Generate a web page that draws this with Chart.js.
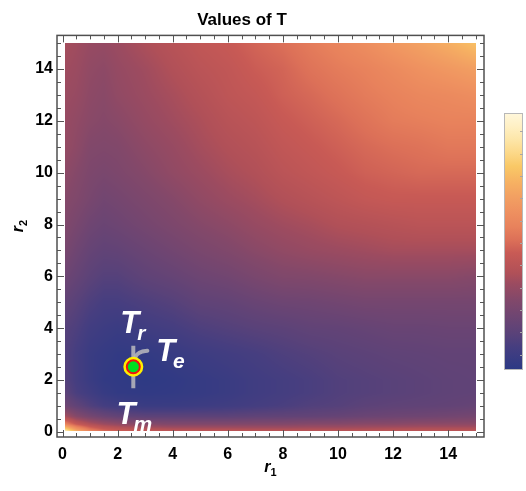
<!DOCTYPE html>
<html><head><meta charset="utf-8">
<script src="https://cdn.jsdelivr.net/npm/chart.js@4.4.1/dist/chart.umd.min.js"></script>
<style>html,body{margin:0;padding:0;background:#fff;}#wrap{width:526px;height:491px;position:relative}</style>
</head><body><div id="wrap"><canvas id="c" width="526" height="491"></canvas></div>
<script>
// ---- data ----
const r1Values = [0.1, 0.5, 1, 1.5, 2, 3, 4, 5, 6, 7, 8, 9, 10, 11, 12, 13, 14, 15];
const r2Values = [15, 14, 13, 12, 11, 10, 9, 8, 7, 6, 5, 4, 3, 2, 1.5, 1, 0.6, 0.3, 0.05];
// normalised T, one row per r2 value (top row = r2 15), columns follow r1Values
const tRows = [
  [0.355,0.345,0.325,0.32,0.335,0.37,0.40,0.43,0.45,0.48,0.505,0.54,0.57,0.605,0.645,0.68,0.72,0.77],
  [0.345,0.335,0.31,0.30,0.32,0.345,0.38,0.41,0.43,0.46,0.48,0.515,0.54,0.56,0.59,0.62,0.645,0.67],
  [0.335,0.325,0.30,0.29,0.31,0.335,0.36,0.39,0.42,0.44,0.47,0.49,0.515,0.54,0.56,0.58,0.59,0.605],
  [0.325,0.31,0.29,0.28,0.29,0.32,0.345,0.37,0.40,0.42,0.45,0.47,0.49,0.515,0.54,0.55,0.56,0.56],
  [0.32,0.30,0.27,0.265,0.27,0.30,0.325,0.355,0.38,0.40,0.43,0.45,0.47,0.49,0.505,0.515,0.53,0.53],
  [0.30,0.28,0.255,0.245,0.255,0.28,0.31,0.335,0.36,0.38,0.41,0.43,0.45,0.47,0.48,0.49,0.49,0.49],
  [0.28,0.265,0.24,0.22,0.23,0.255,0.28,0.31,0.335,0.355,0.38,0.40,0.42,0.44,0.45,0.45,0.45,0.45],
  [0.265,0.24,0.21,0.195,0.205,0.23,0.255,0.28,0.30,0.325,0.345,0.36,0.38,0.39,0.40,0.41,0.41,0.41],
  [0.24,0.21,0.18,0.165,0.17,0.195,0.22,0.245,0.265,0.29,0.31,0.325,0.335,0.345,0.355,0.355,0.355,0.355],
  [0.205,0.18,0.15,0.13,0.13,0.16,0.18,0.205,0.22,0.245,0.265,0.27,0.28,0.29,0.29,0.29,0.29,0.28],
  [0.165,0.14,0.11,0.09,0.09,0.11,0.13,0.16,0.17,0.19,0.205,0.21,0.22,0.23,0.23,0.23,0.23,0.23],
  [0.13,0.11,0.075,0.06,0.05,0.07,0.085,0.11,0.125,0.14,0.15,0.165,0.17,0.18,0.19,0.19,0.195,0.195],
  [0.12,0.085,0.05,0.035,0.025,0.025,0.04,0.06,0.075,0.09,0.11,0.125,0.14,0.15,0.16,0.165,0.17,0.17],
  [0.125,0.085,0.05,0.025,0.02,0.01,0.02,0.035,0.05,0.07,0.085,0.10,0.12,0.13,0.14,0.15,0.16,0.165],
  [0.15,0.10,0.07,0.04,0.025,0.02,0.025,0.035,0.05,0.07,0.085,0.10,0.12,0.13,0.14,0.15,0.16,0.165],
  [0.21,0.165,0.12,0.085,0.07,0.05,0.05,0.06,0.07,0.085,0.10,0.12,0.13,0.15,0.16,0.165,0.17,0.18],
  [0.355,0.28,0.23,0.195,0.17,0.15,0.15,0.15,0.15,0.16,0.165,0.17,0.18,0.195,0.205,0.21,0.22,0.23],
  [0.56,0.45,0.38,0.335,0.31,0.28,0.265,0.265,0.265,0.27,0.27,0.28,0.28,0.29,0.29,0.30,0.30,0.30],
  [0.90,0.70,0.56,0.49,0.46,0.43,0.41,0.41,0.41,0.40,0.40,0.40,0.40,0.40,0.41,0.41,0.41,0.41]
];
const tickValues = [0, 2, 4, 6, 8, 10, 12, 14];
const paletteStops = [
  [0.00,'#2b3985'],[0.09,'#463e80'],[0.143,'#5a4279'],[0.208,'#6e4572'],[0.273,'#82486a'],
  [0.338,'#9c4b60'],[0.377,'#b05058'],[0.455,'#c85a55'],[0.506,'#dc7058'],[0.558,'#e8825c'],
  [0.623,'#ef9260'],[0.675,'#f2a062'],[0.727,'#f6b062'],[0.792,'#f9c866'],[0.844,'#fcd888'],
  [0.896,'#fde6a8'],[0.948,'#fff0c4'],[1.00,'#fff7dc']
];
const colorbarTicks = [0.06, 0.147, 0.234, 0.32, 0.407, 0.494, 0.58, 0.668, 0.755, 0.842, 0.929];
const markerPoint = [{x: 2.57, y: 2.51}];
const markerBar = [{x: 2.57, y: 1.68}, {x: 2.57, y: 3.32}];
const markerHook = [{x: 2.6, y: 2.8}, {x: 2.72, y: 3.0}, {x: 2.9, y: 3.1}, {x: 3.08, y: 3.13}];
const pointLabels = [
  {main: 'T', sub: 'r', x: 2.1, y: 3.81},
  {main: 'T', sub: 'e', x: 3.4, y: 2.73},
  {main: 'T', sub: 'm', x: 1.96, y: 0.31}
];
const FONT = '"Liberation Sans", Arial, sans-serif';

// ---- helpers ----
const pal = paletteStops.map(([p, h]) => [p, parseInt(h.slice(1,3),16), parseInt(h.slice(3,5),16), parseInt(h.slice(5,7),16)]);
function colorAt(v) {
  v = Math.max(0, Math.min(1, v));
  for (let i = 0; i < pal.length - 1; i++) {
    const a = pal[i], b = pal[i+1];
    if (v <= b[0]) {
      const t = (v - a[0]) / (b[0] - a[0]);
      return [a[1]+(b[1]-a[1])*t, a[2]+(b[2]-a[2])*t, a[3]+(b[3]-a[3])*t];
    }
  }
  const l = pal[pal.length-1]; return [l[1], l[2], l[3]];
}
const ysAsc = r2Values.slice().reverse();
const rowsAsc = tRows.slice().reverse();
function seg(arr, v) {
  if (v <= arr[0]) return [0, 0];
  for (let i = 0; i < arr.length - 1; i++) if (v <= arr[i+1]) return [i, (v - arr[i]) / (arr[i+1] - arr[i])];
  return [arr.length - 2, 1];
}
function sample(xv, yv) {
  const [i, tx] = seg(r1Values, xv), [j, ty] = seg(ysAsc, yv);
  const a = rowsAsc[j][i], b = rowsAsc[j][i+1], c = rowsAsc[j+1][i], d = rowsAsc[j+1][i+1];
  return (a*(1-tx) + b*tx)*(1-ty) + (c*(1-tx) + d*tx)*ty;
}

const heatPlugin = {
  id: 'heat',
  beforeDatasetsDraw(chart) {
    const {ctx, scales: {x, y}} = chart;
    const px0 = Math.round(x.getPixelForValue(r1Values[0]));
    const px1 = Math.round(x.getPixelForValue(r1Values[r1Values.length-1]));
    const py0 = Math.round(y.getPixelForValue(ysAsc[ysAsc.length-1]));
    const py1 = Math.round(y.getPixelForValue(ysAsc[0]));
    const w = px1 - px0, h = py1 - py0;
    const off = document.createElement('canvas'); off.width = w; off.height = h;
    const octx = off.getContext('2d'); const img = octx.createImageData(w, h);
    for (let j = 0; j < h; j++) {
      const yv = y.getValueForPixel(py0 + j + 0.5);
      for (let i = 0; i < w; i++) {
        const xv = x.getValueForPixel(px0 + i + 0.5);
        const c = colorAt(sample(xv, yv));
        const k = (j*w + i)*4;
        img.data[k] = c[0]; img.data[k+1] = c[1]; img.data[k+2] = c[2]; img.data[k+3] = 255;
      }
    }
    octx.putImageData(img, 0, 0);
    ctx.drawImage(off, px0, py0);
  }
};

const framePlugin = {
  id: 'frame',
  afterDatasetsDraw(chart) {
    const {ctx, chartArea: a, scales: {x, y}} = chart;
    // labels
    ctx.save();
    ctx.fillStyle = '#ffffff';
    ctx.textBaseline = 'alphabetic'; ctx.textAlign = 'left';
    pointLabels.forEach(l => {
      const px = x.getPixelForValue(l.x), py = y.getPixelForValue(l.y);
      ctx.font = 'italic bold 31px ' + FONT;
      ctx.fillText(l.main, px, py);
      const w = ctx.measureText(l.main).width;
      ctx.font = 'italic bold 21px ' + FONT;
      ctx.fillText(l.sub, px + w - 2, py + 7);
    });
    ctx.restore();
    // frame and ticks
    ctx.save();
    ctx.strokeStyle = '#555555'; ctx.lineWidth = 1;
    ctx.beginPath();
    for (let k = 0; k <= 30; k++) {
      const v = k * 0.5;
      const major = tickValues.includes(v);
      const L = major ? 7 : 4;
      const px = Math.round(x.getPixelForValue(v)) + 0.5;
      ctx.moveTo(px, a.bottom); ctx.lineTo(px, a.bottom - L);
      ctx.moveTo(px, a.top); ctx.lineTo(px, a.top + L);
      const py = Math.round(y.getPixelForValue(v)) + 0.5;
      ctx.moveTo(a.left, py); ctx.lineTo(a.left + L, py);
      ctx.moveTo(a.right, py); ctx.lineTo(a.right - L, py);
    }
    ctx.stroke();
    ctx.lineWidth = 1.5; ctx.strokeStyle = '#505050';
    ctx.strokeRect(a.left, a.top, a.right - a.left, a.bottom - a.top);
    ctx.restore();
  },
  afterDraw(chart) {
    const {ctx, chartArea: a} = chart;
    ctx.save();
    // axis titles
    ctx.fillStyle = '#000';
    ctx.textBaseline = 'alphabetic';
    const cx = (a.left + a.right) / 2;
    ctx.font = 'italic bold 16px ' + FONT;
    const rw = ctx.measureText('r').width;
    ctx.font = 'bold 11px ' + FONT;
    const sw = ctx.measureText('1').width;
    let sx = cx - (rw + sw) / 2;
    ctx.font = 'italic bold 16px ' + FONT; ctx.fillText('r', sx, 472);
    ctx.font = 'bold 11px ' + FONT; ctx.fillText('1', sx + rw, 476);
    ctx.translate(23, 226); ctx.rotate(-Math.PI/2);
    sx = -(rw + sw) / 2;
    ctx.font = 'italic bold 16px ' + FONT; ctx.fillText('r', sx, 0);
    ctx.font = 'bold 11px ' + FONT; ctx.fillText('2', sx + rw, 4);
    ctx.restore();
    // colour bar
    const bx = a.right + 20, bw = 19, byTop = 113, byBot = 370;
    ctx.save();
    const g = ctx.createLinearGradient(0, byBot, 0, byTop);
    paletteStops.forEach(([p, c]) => g.addColorStop(p, c));
    ctx.fillStyle = g; ctx.fillRect(bx, byTop, bw, byBot - byTop);
    ctx.strokeStyle = '#b8b8b8'; ctx.lineWidth = 1;
    ctx.strokeRect(bx + 0.5, byTop + 0.5, bw - 1, byBot - byTop - 1);
    ctx.strokeStyle = '#a8a8a8';
    ctx.beginPath();
    colorbarTicks.forEach(t => {
      const py = Math.round(byBot - t * (byBot - byTop)) + 0.5;
      ctx.moveTo(bx + bw - 3, py); ctx.lineTo(bx + bw, py);
    });
    ctx.stroke();
    ctx.restore();
  }
};

const tickFont = {family: FONT, size: 16, weight: 'bold'};
new Chart(document.getElementById('c'), {
  type: 'scatter',
  data: {
    datasets: [
      {type: 'scatter', data: markerPoint, pointRadius: 6.5, pointBackgroundColor: '#00e020',
       pointBorderColor: '#ee1111', pointBorderWidth: 2, order: 1},
      {type: 'scatter', data: markerPoint, pointRadius: 9, pointBackgroundColor: '#ffee00',
       pointBorderColor: '#ffee00', pointBorderWidth: 2, order: 2},
      {type: 'line', data: markerBar, borderColor: 'rgba(178,178,186,0.9)', borderWidth: 4,
       pointRadius: 0, fill: false, order: 3},
      {type: 'line', data: markerHook, borderColor: 'rgba(178,178,186,0.9)', borderWidth: 4,
       pointRadius: 0, tension: 0.4, fill: false, borderCapStyle: 'round', order: 3}
    ]
  },
  options: {
    responsive: false, animation: false, devicePixelRatio: 1,
    layout: {padding: {left: 0, right: 42, top: 0, bottom: 0}},
    plugins: {
      legend: {display: false}, tooltip: {enabled: false},
      title: {display: true, text: 'Values of T', color: '#000',
        font: {family: FONT, size: 17, weight: 'bold'}, padding: {top: 10, bottom: 5}}
    },
    scales: {
      x: {type: 'linear', min: -0.2, max: 15.3,
        grid: {display: false, drawTicks: false}, border: {display: false},
        ticks: {color: '#000', font: tickFont, padding: 8, maxRotation: 0, autoSkip: false},
        afterBuildTicks: s => { s.ticks = tickValues.map(v => ({value: v})); },
        afterFit: s => { s.height = 54; }},
      y: {type: 'linear', min: -0.2, max: 15.3,
        grid: {display: false, drawTicks: false}, border: {display: false},
        ticks: {color: '#000', font: tickFont, padding: 4, autoSkip: false},
        afterBuildTicks: s => { s.ticks = tickValues.map(v => ({value: v})); },
        afterFit: s => { s.width = 57; }}
    }
  },
  plugins: [heatPlugin, framePlugin]
});
</script></body></html>
